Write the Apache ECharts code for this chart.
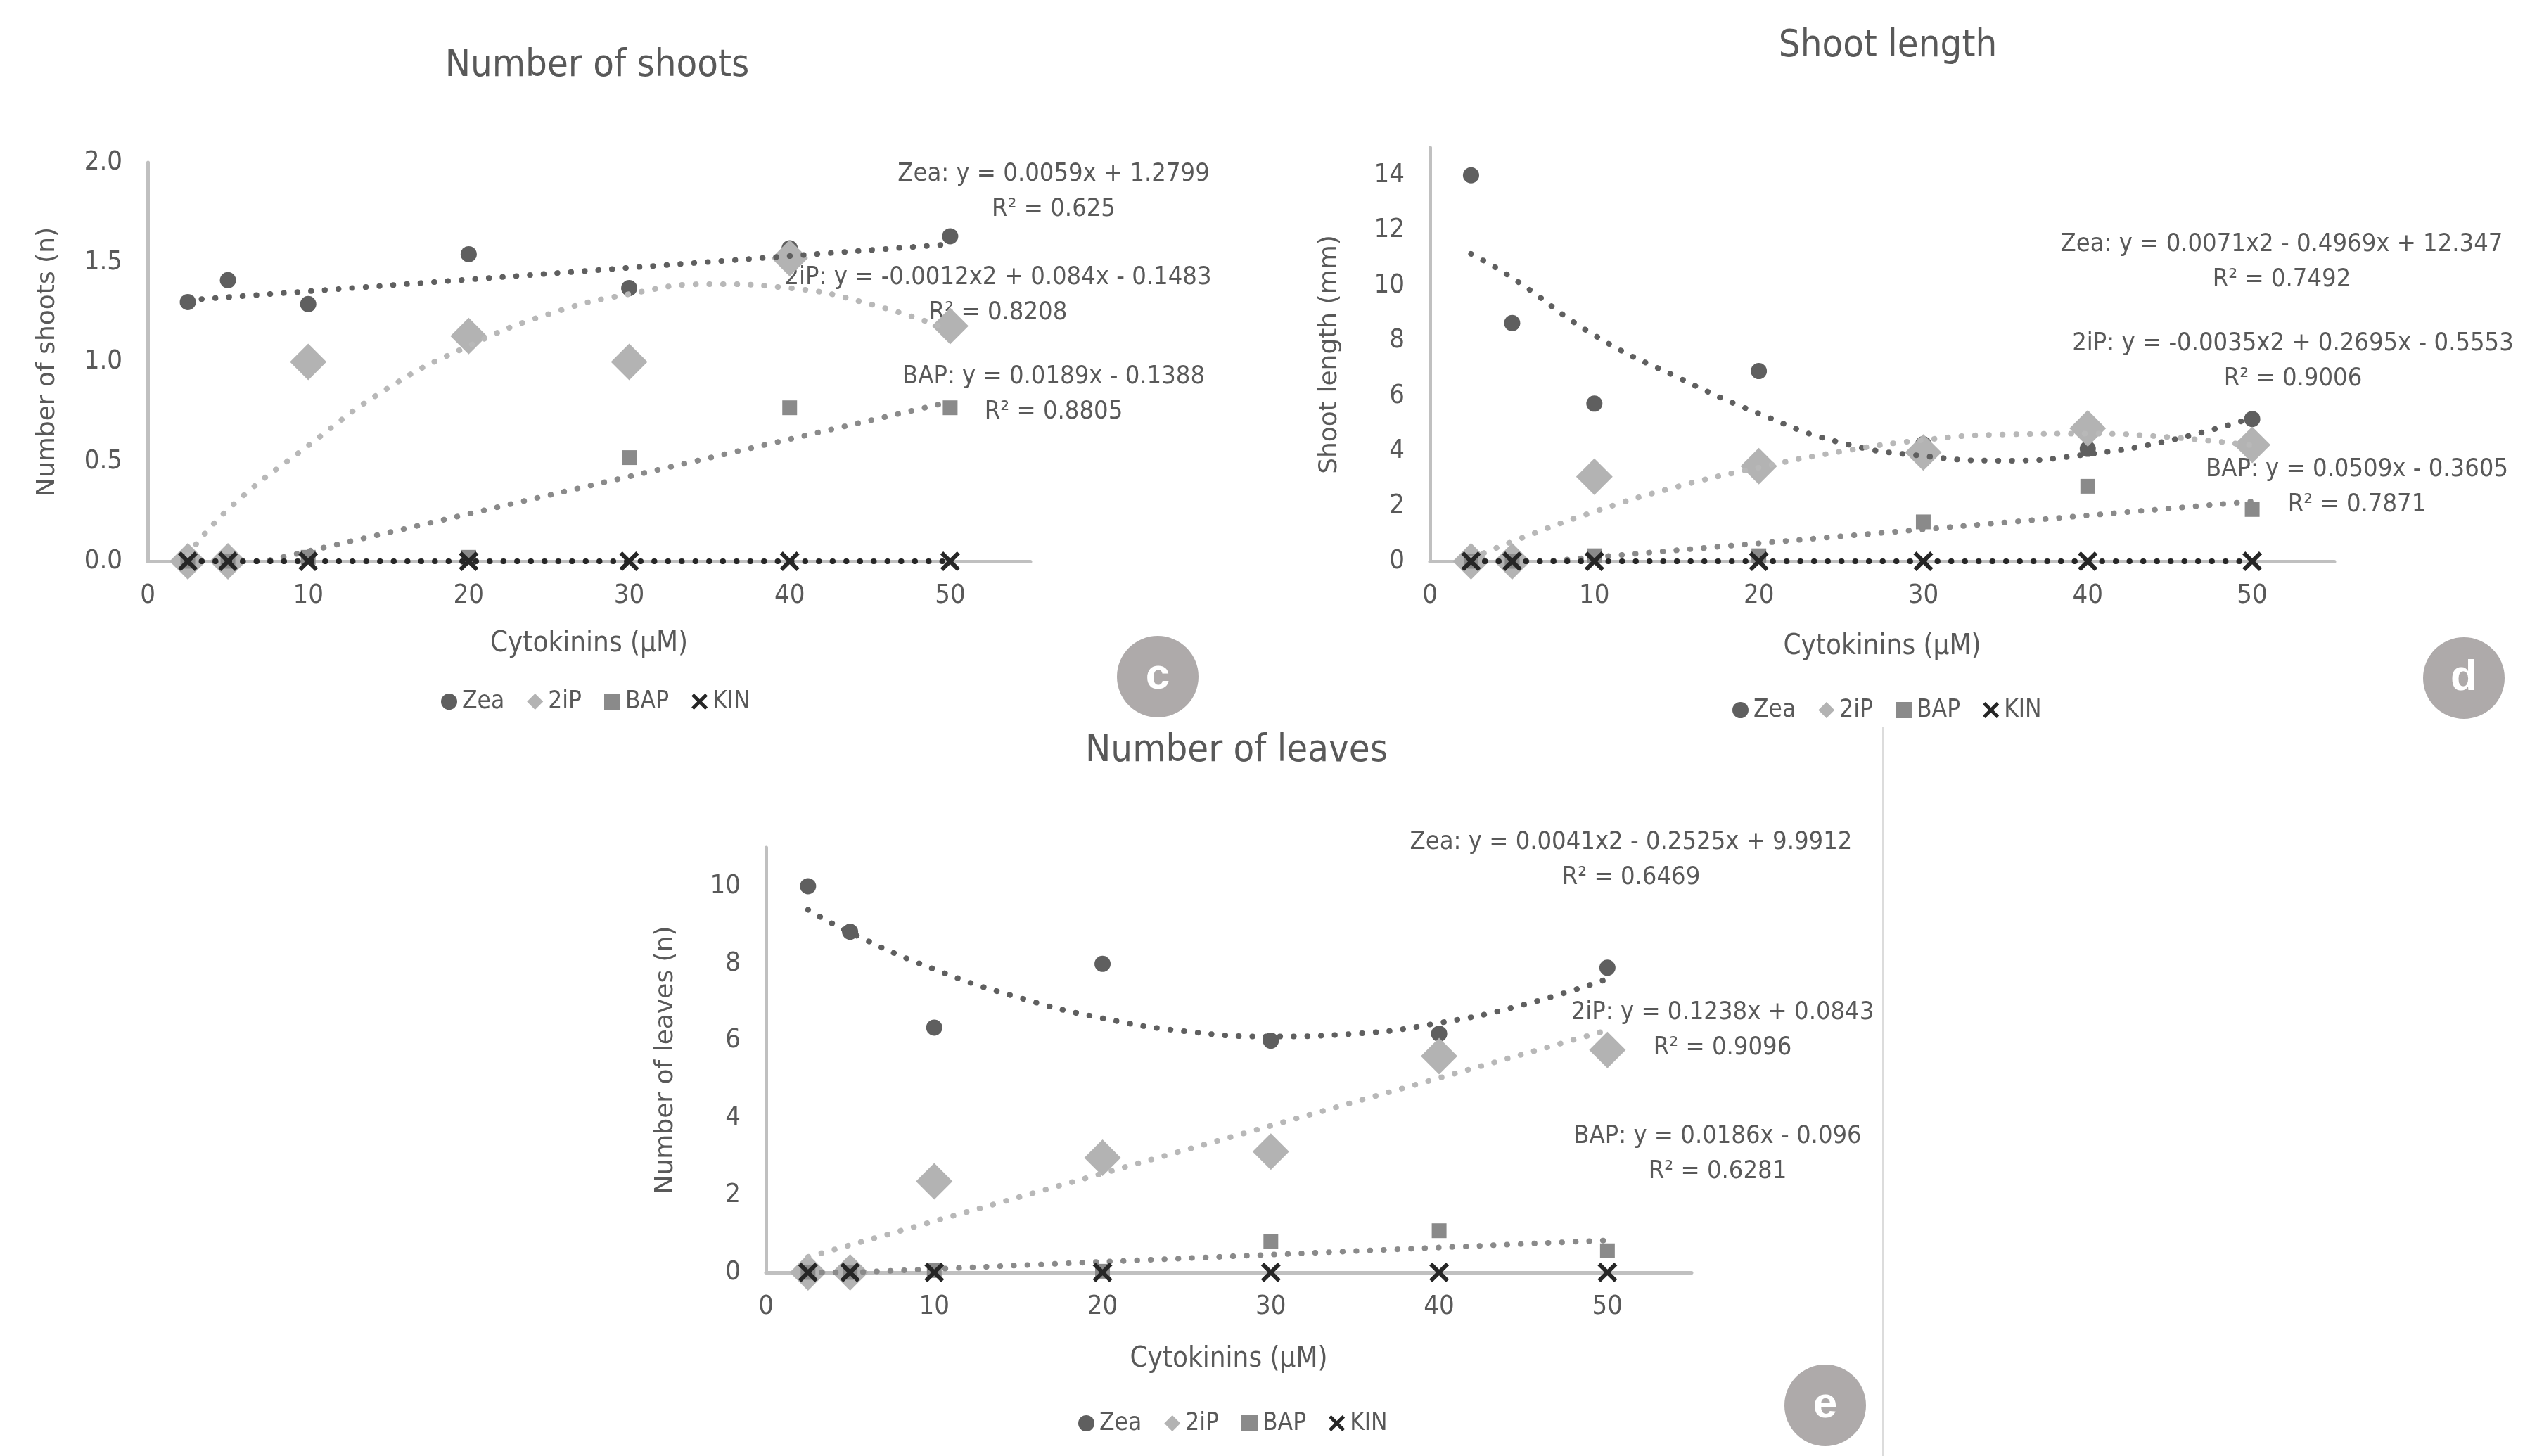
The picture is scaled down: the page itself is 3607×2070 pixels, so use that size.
<!DOCTYPE html>
<html><head><meta charset="utf-8">
<script src="https://cdn.jsdelivr.net/npm/echarts@6/dist/echarts.min.js"></script>
<style>html,body{margin:0;padding:0;background:#fff}#c{width:3607px;height:2070px}</style>
</head><body><div id="c"></div>
<script>
// ---------- DATA ----------
const conc = [2.5, 5, 10, 20, 30, 40, 50];
const seriesNames = ['Zea', '2iP', 'BAP', 'KIN'];
const xTickLabels = [0, 10, 20, 30, 40, 50];

// (c) Number of shoots
const shootsZea = [1.30, 1.41, 1.29, 1.54, 1.37, 1.57, 1.63];
const shoots2iP = [0, 0, 1.00, 1.13, 1.00, 1.52, 1.18];
const shootsBAP = [0, 0, 0.02, 0.02, 0.52, 0.77, 0.77];
const shootsKIN = [0, 0, 0, 0, 0, 0, 0];
const shootsTrendZea = [[2.5, 1.31], [50, 1.59]];
const shootsTrend2iP = [[2.5, 0.03], [5, 0.26], [10, 0.58], [15, 0.87], [20, 1.08], [25, 1.24], [30, 1.34], [35, 1.39], [40, 1.37], [45, 1.29], [50, 1.16]];
const shootsTrendBAP = [[2.5, 0], [7.3, 0], [50, 0.80]];
const shootsTrendKIN = [[2.5, 0], [50, 0]];

// (d) Shoot length
const lengthZea = [14.0, 8.64, 5.72, 6.9, 4.25, 4.08, 5.16];
const length2iP = [0, 0, 3.07, 3.45, 3.95, 4.82, 4.22];
const lengthBAP = [0, 0, 0.2, 0.2, 1.43, 2.72, 1.88];
const lengthKIN = [0, 0, 0, 0, 0, 0, 0];
const lengthTrendZea = [[2.5, 11.15], [5, 10.28], [10, 8.2], [15, 6.69], [20, 5.36], [25, 4.3], [30, 3.82], [35, 3.65], [40, 3.88], [45, 4.39], [50, 5.2]];
const lengthTrend2iP = [[2.5, 0.1], [5, 0.71], [10, 1.8], [15, 2.7], [20, 3.4], [25, 3.98], [30, 4.4], [35, 4.6], [40, 4.63], [45, 4.5], [50, 4.2]];
const lengthTrendBAP = [[2.5, 0], [7.1, 0], [50, 2.17]];
const lengthTrendKIN = [[2.5, 0], [50, 0]];

// (e) Number of leaves
const leavesZea = [10.0, 8.82, 6.34, 7.99, 6.0, 6.18, 7.89];
const leaves2iP = [0, 0, 2.36, 2.97, 3.13, 5.6, 5.76];
const leavesBAP = [0, 0, 0.05, 0.03, 0.81, 1.08, 0.56];
const leavesKIN = [0, 0, 0, 0, 0, 0, 0];
const leavesTrendZea = [[2.5, 9.39], [5, 8.8], [10, 7.85], [15, 7.12], [20, 6.58], [25, 6.24], [30, 6.11], [35, 6.18], [40, 6.46], [45, 6.93], [50, 7.6]];
const leavesTrend2iP = [[2.5, 0.4], [50, 6.27]];
const leavesTrendBAP = [[2.5, 0], [5.2, 0], [50, 0.83]];

const titles = ['Number of shoots', 'Shoot length', 'Number of leaves'];
const yNames = ['Number of shoots (n)', 'Shoot length (mm)', 'Number of leaves (n)'];
const xName = 'Cytokinins (µM)';
const equations = [
  ['Zea: y = 0.0059x + 1.2799', 'R² = 0.625'],
  ['2iP: y = -0.0012x2 + 0.084x - 0.1483', 'R² = 0.8208'],
  ['BAP: y = 0.0189x - 0.1388', 'R² = 0.8805'],
  ['Zea: y = 0.0071x2 - 0.4969x + 12.347', 'R² = 0.7492'],
  ['2iP: y = -0.0035x2 + 0.2695x - 0.5553', 'R² = 0.9006'],
  ['BAP: y = 0.0509x - 0.3605', 'R² = 0.7871'],
  ['Zea: y = 0.0041x2 - 0.2525x + 9.9912', 'R² = 0.6469'],
  ['2iP: y = 0.1238x + 0.0843', 'R² = 0.9096'],
  ['BAP: y = 0.0186x - 0.096', 'R² = 0.6281']
];
const panelLetters = ['c', 'd', 'e'];

// ---------- STYLE / LAYOUT ----------
const FN = "'Liberation Sans Narrow', 'DejaVu Sans Condensed', 'Roboto Condensed', Lato, sans-serif";
const TXT = '#595959';
const xPath = 'path://M1.5,0 L5,3.5 L8.5,0 L10,1.5 L6.5,5 L10,8.5 L8.5,10 L5,6.5 L1.5,10 L0,8.5 L3.5,5 L0,1.5 Z';
const mk = {
  Zea: { symbol: 'circle', size: 23, color: '#5f5f5f', z: 3 },
  '2iP': { symbol: 'diamond', size: 52, color: '#b3b3b3', z: 4 },
  BAP: { symbol: 'rect', size: 21, color: '#8a8a8a', z: 5 },
  KIN: { symbol: xPath, size: 28, color: '#262626', z: 7 }
};
const trendColor = { Zea: '#5f5f5f', '2iP': '#b8b8b8', BAP: '#8a8a8a', KIN: '#262626' };

const grids = [
  { left: 210, top: 231, width: 1255, height: 567 },
  { left: 2033, top: 210, width: 1286, height: 588 },
  { left: 1089, top: 1205, width: 1316, height: 604 }
];
const yCfg = [
  { max: 2, interval: 0.5, fmt: v => v.toFixed(1) },
  { max: 15, interval: 2, fmt: v => (v % 2 === 0 ? String(v) : '') },
  { max: 11, interval: 2, fmt: v => (v % 2 === 0 ? String(v) : '') }
];
const titlePos = [[844, 62], [2679, 34], [1753, 1036]];
const xNameGap = [98, 102, 104];
const legendPos = [[622, 975], [2458, 987], [1528, 2001]];
const eqPos = [[1498, 248], [1419, 395], [1498, 536], [3244, 348], [3260, 489], [3351, 668], [2319, 1198], [2449, 1440], [2442, 1616]];
const letterPos = [[1646, 962], [3503, 964], [2595, 1998]];

const pts = ys => conc.map((x, i) => [x, ys[i]]);

function scatter(name, ys, gi) {
  const m = mk[name];
  return {
    type: 'scatter', name, xAxisIndex: gi, yAxisIndex: gi, data: pts(ys),
    symbol: m.symbol, symbolSize: m.size, z: m.z, silent: true,
    itemStyle: { color: m.color, opacity: 1 }
  };
}
function trend(name, data, gi) {
  return {
    type: 'line', name: name + ' trend', xAxisIndex: gi, yAxisIndex: gi, data,
    showSymbol: false, symbol: 'none', smooth: data.length > 3 ? 0.5 : false, z: 6, silent: true,
    lineStyle: { color: trendColor[name], width: 8, type: [0.5, 19], cap: 'round' }
  };
}

const panels = [
  { s: [shootsZea, shoots2iP, shootsBAP, shootsKIN], t: [shootsTrendZea, shootsTrend2iP, shootsTrendBAP, shootsTrendKIN] },
  { s: [lengthZea, length2iP, lengthBAP, lengthKIN], t: [lengthTrendZea, lengthTrend2iP, lengthTrendBAP, lengthTrendKIN] },
  { s: [leavesZea, leaves2iP, leavesBAP, leavesKIN], t: [leavesTrendZea, leavesTrend2iP, leavesTrendBAP] }
];

const series = [];
panels.forEach((p, gi) => {
  p.s.forEach((ys, k) => series.push(scatter(seriesNames[k], ys, gi)));
  p.t.forEach((d, k) => series.push(trend(seriesNames[k], d, gi)));
});

const axisLine = { show: true, onZero: false, lineStyle: { color: '#c0c0c0', width: 5 } };

const xAxis = grids.map((g, gi) => ({
  type: 'value', gridIndex: gi, min: 0, max: 55, interval: 10,
  axisLine, axisTick: { show: false }, splitLine: { show: false },
  axisLabel: { formatter: v => (xTickLabels.includes(v) ? String(v) : ''), fontSize: 38, color: TXT, fontFamily: FN, margin: 30 },
  name: xName, nameLocation: 'middle', nameGap: xNameGap[gi],
  nameTextStyle: { fontSize: 40, color: TXT, fontFamily: FN }
}));
const yAxis = grids.map((g, gi) => ({
  type: 'value', gridIndex: gi, min: 0, max: yCfg[gi].max, interval: yCfg[gi].interval,
  axisLine, axisTick: { show: false }, splitLine: { show: false },
  axisLabel: { formatter: yCfg[gi].fmt, fontSize: 38, color: TXT, fontFamily: FN, margin: 36 },
  name: yNames[gi], nameLocation: 'middle', nameGap: 124, nameRotate: 90,
  nameTextStyle: { fontSize: 36, color: TXT, fontFamily: "'DejaVu Sans', Verdana, sans-serif" }
}));

const legendData = [
  { name: 'Zea', icon: 'circle' },
  { name: '2iP', icon: 'diamond' },
  { name: 'BAP', icon: 'rect' },
  { name: 'KIN', icon: xPath }
];
const legend = legendPos.map(p => ({
  data: legendData, left: p[0], top: p[1], orient: 'horizontal',
  itemWidth: 23, itemHeight: 23, itemGap: 32, selectedMode: false,
  textStyle: { fontSize: 35, color: TXT, fontFamily: FN, padding: [0, 0, 0, 2] }
}));

const title = titles.map((t, i) => ({
  text: t, left: titlePos[i][0], top: titlePos[i][1], textAlign: 'center',
  textStyle: { fontSize: 54, fontWeight: 'normal', color: TXT, fontFamily: FN }
}));

const graphic = [];
equations.forEach((eq, i) => {
  graphic.push({
    type: 'text', x: eqPos[i][0], y: eqPos[i][1] - 25, silent: true,
    style: { text: eq.join('\n'), align: 'center', verticalAlign: 'top', lineHeight: 50, fontSize: 36, fontFamily: FN, fill: TXT }
  });
});
letterPos.forEach((p, i) => {
  graphic.push({ type: 'circle', shape: { cx: p[0], cy: p[1], r: 58 }, style: { fill: '#aeaaaa' }, silent: true });
  graphic.push({
    type: 'text', x: p[0], y: p[1], silent: true,
    style: { text: panelLetters[i], align: 'center', verticalAlign: 'middle', fontSize: 62, fontWeight: 'bold', fontFamily: "'Liberation Sans', Arial, sans-serif", fill: '#ffffff' }
  });
});
graphic.push({ type: 'line', shape: { x1: 2677, y1: 1033, x2: 2677, y2: 2070 }, style: { stroke: '#dcdcdc', lineWidth: 2 }, silent: true });

const chart = echarts.init(document.getElementById('c'), null, { renderer: 'canvas' });
chart.setOption({
  backgroundColor: '#ffffff', animation: false,
  title, legend, grid: grids, xAxis, yAxis, series, graphic
});
</script>
</body></html>
